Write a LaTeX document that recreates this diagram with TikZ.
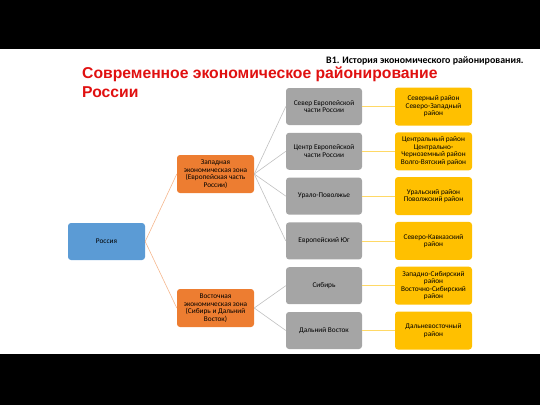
\documentclass[tikz,border=0pt]{standalone}
\usepackage{fontspec}
\setmainfont{Carlito}
\newfontfamily\titlefont{Liberation Sans}
\definecolor{countryblue}{HTML}{5B9BD5}
\definecolor{zoneorange}{HTML}{ED7D31}
\definecolor{areagray}{HTML}{A5A5A5}
\definecolor{districtyellow}{HTML}{FFC000}
\definecolor{titlered}{HTML}{E01010}
\tikzset{
	box/.style      = {rounded corners=3pt, minimum width=76pt, minimum height=37pt, inner sep=1pt, align=center, text=black, font=\fontsize{7.3}{7.5}\selectfont},
	country/.style  = {box, fill=countryblue, minimum width=77pt},
	zone/.style     = {box, fill=zoneorange, minimum width=77pt, minimum height=38pt},
	area/.style     = {box, fill=areagray, node distance=44.8pt},
	district/.style = {box, fill=districtyellow, minimum width=77pt, minimum height=38pt, node distance=109.5pt},
	trunk/.style    = {draw=zoneorange!55, line width=0.6pt},
	branch/.style   = {draw=areagray!70, line width=0.6pt},
	leaf/.style     = {draw=districtyellow!60, line width=0.6pt},
}

\begin{document}
\begin{tikzpicture}[x=1pt, y=-1pt]
		\useasboundingbox (0,0) rectangle (540,405);
		% black bars of the slide
		\fill[black] (0,0) rectangle (540,49);
		\fill[black] (0,354) rectangle (540,405);
		
		% headings
		\node[anchor=base west, inner sep=0, font=\bfseries\fontsize{9.9}{11}\selectfont] (subtitle) at (326,63) {В1. История экономического районирования.};
		\node[anchor=north west, inner sep=0, align=left, text=titlered, font=\titlefont\bfseries\fontsize{15.7}{19}\selectfont] (title) at (82,66.5) {Современное экономическое районирование\\России};
		
		% the tree, left to right
		\draw
		node[country] (russia) at (106.5,241.5) {Россия}
		node[zone] (westzone) at (215.5,174) {Западная\\экономическая зона\\(Европейская часть\\России)}
		node[zone] (eastzone) at (215.5,308) {Восточная\\экономическая зона\\(Сибирь и Дальний\\Восток)};
		
		% economic areas
		\draw
		node[area] at (324,106.5) (northeu) {Север Европейской\\части России}
		node[area, below of = northeu  ] (centreeu) {Центр Европейской\\части России}
		node[area, below of = centreeu ] (uralvolga) {Урало-Поволжье}
		node[area, below of = uralvolga] (southeu) {Европейский Юг}
		node[area, below of = southeu  ] (siberia) {Сибирь}
		node[area, below of = siberia  ] (fareast) {Дальний Восток};
		
		% economic districts
		\draw
		node[district, right of = northeu  ] (northdist) {Северный район\\Северо-Западный\\район}
		node[district, right of = centreeu ] (centredist) {Центральный район\\Центрально-\\Черноземный район\\Волго-Вятский район}
		node[district, right of = uralvolga] (uraldist) {Уральский район\\Поволжский район}
		node[district, right of = southeu  ] (caucdist) {Северо-Кавказский\\район}
		node[district, right of = siberia  ] (sibdist) {Западно-Сибирский\\район\\Восточно-Сибирский\\район}
		node[district, right of = fareast  ] (eastdist) {Дальневосточный\\район};
		
		% connect everything together
		\draw[trunk] (russia.east) -- (westzone.west);
		\draw[trunk] (russia.east) -- (eastzone.west);
		\draw[branch] (westzone.east) -- (northeu.west);
		\draw[branch] (westzone.east) -- (centreeu.west);
		\draw[branch] (westzone.east) -- (uralvolga.west);
		\draw[branch] (westzone.east) -- (southeu.west);
		\draw[branch] (eastzone.east) -- (siberia.west);
		\draw[branch] (eastzone.east) -- (fareast.west);
		\draw[leaf] (northeu) -- (northdist);
		\draw[leaf] (centreeu) -- (centredist);
		\draw[leaf] (uralvolga) -- (uraldist);
		\draw[leaf] (southeu) -- (caucdist);
		\draw[leaf] (siberia) -- (sibdist);
		\draw[leaf] (fareast) -- (eastdist);
	\end{tikzpicture}
\end{document}
